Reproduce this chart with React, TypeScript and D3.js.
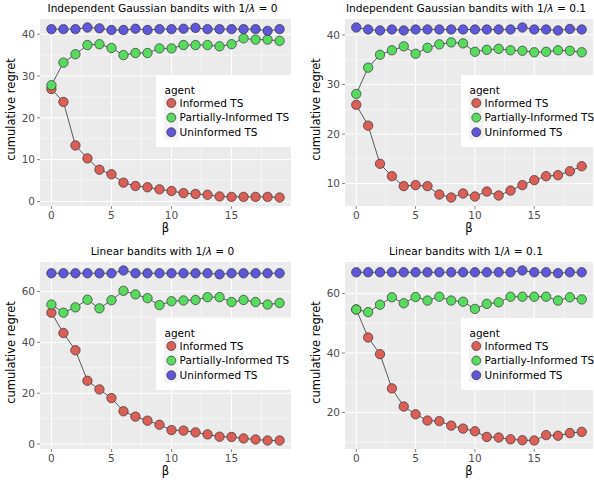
import * as d3 from 'd3'

const BETA = [0, 1, 2, 3, 4, 5, 6, 7, 8, 9, 10, 11, 12, 13, 14, 15, 16, 17, 18, 19]
const AGENTS = ['Informed TS', 'Partially-Informed TS', 'Uninformed TS']
const COLORS = ['#DB5F57', '#57DB5E', '#5F57DB']

// independent gaussian, 1/lambda = 0
const gauss0Informed = [26.9, 23.8, 13.4, 10.3, 7.6, 6.5, 4.5, 3.7, 3.4, 2.9, 2.5, 2.0, 1.8, 1.6, 1.2, 1.1, 1.1, 1.1, 1.1, 0.95]
const gauss0Partial = [27.8, 33.2, 35.2, 37.4, 37.6, 36.7, 35.0, 35.5, 35.5, 36.6, 36.6, 37.4, 37.4, 37.4, 37.1, 37.6, 39.0, 38.7, 38.7, 38.4]
const gauss0Uninformed = [41.2, 41.2, 41.2, 41.6, 41.4, 41.0, 41.0, 41.3, 41.0, 41.2, 41.2, 41.3, 41.5, 41.2, 41.2, 41.2, 41.2, 41.2, 40.8, 41.2]

// independent gaussian, 1/lambda = 0.1
const gauss01Informed = [25.9, 21.7, 14.0, 11.5, 9.5, 9.7, 9.5, 7.8, 7.2, 8.0, 7.4, 8.4, 7.6, 8.6, 9.7, 10.7, 11.5, 11.7, 12.5, 13.5]
const gauss01Partial = [28.1, 33.4, 36.0, 36.9, 37.7, 36.2, 37.4, 38.1, 38.5, 38.3, 36.6, 37.0, 37.2, 36.9, 36.8, 36.5, 36.6, 36.9, 36.8, 36.5]
const gauss01Uninformed = [41.5, 41.1, 40.9, 41.1, 40.9, 41.1, 41.1, 41.1, 41.1, 41.1, 41.1, 41.1, 41.1, 41.1, 41.5, 41.1, 41.1, 40.9, 41.2, 41.1]

// linear, 1/lambda = 0
const linear0Informed = [51.7, 43.7, 36.9, 24.9, 21.5, 18.1, 12.9, 10.8, 9.2, 7.6, 5.5, 5.3, 4.6, 3.8, 2.9, 2.8, 2.2, 1.8, 1.4, 1.4]
const linear0Partial = [54.9, 51.7, 53.8, 56.8, 53.4, 56.6, 60.3, 58.9, 57.4, 54.7, 56.2, 56.5, 56.7, 57.8, 57.8, 55.9, 56.7, 55.9, 54.9, 55.5]
const linear0Uninformed = [67.2, 67.2, 67.2, 67.2, 67.2, 67.2, 68.3, 67.2, 67.2, 67.2, 67.2, 67.2, 67.2, 67.2, 66.8, 67.2, 67.2, 67.2, 67.2, 67.2]

// linear, 1/lambda = 0.1
const linear01Informed = [54.6, 45.2, 39.6, 28.1, 22.0, 19.4, 17.3, 17.1, 15.6, 14.6, 13.7, 11.8, 11.6, 11.0, 10.7, 10.6, 12.4, 12.2, 13.1, 13.5]
const linear01Partial = [54.6, 53.7, 56.2, 58.7, 56.7, 58.8, 57.6, 58.9, 57.6, 57.2, 54.8, 56.5, 57.0, 58.9, 58.9, 58.9, 58.9, 57.6, 58.7, 58.0]
const linear01Uninformed = [67.1, 67.1, 67.1, 67.1, 67.1, 67.1, 67.1, 67.1, 67.1, 67.1, 67.1, 67.1, 67.1, 67.1, 67.7, 67.1, 67.1, 66.8, 67.1, 67.1]

const X_TICKS = [0, 5, 10, 15]
const TITLES = ['Independent Gaussian bandits with 1/', 'Independent Gaussian bandits with 1/', 'Linear bandits with 1/', 'Linear bandits with 1/']
const LAMBDAS = ['0', '0.1', '0', '0.1']
const Y_TICKS = [[0, 10, 20, 30, 40], [10, 20, 30, 40], [0, 20, 40, 60], [20, 40, 60]]
const SERIES = [
  [gauss0Informed, gauss0Partial, gauss0Uninformed],
  [gauss01Informed, gauss01Partial, gauss01Uninformed],
  [linear0Informed, linear0Partial, linear0Uninformed],
  [linear01Informed, linear01Partial, linear01Uninformed],
]

// plot panel rectangles
const LAYOUT = [
  { left: 40, top: 19, right: 291, bottom: 206 },
  { left: 345, top: 19, right: 593, bottom: 206 },
  { left: 40, top: 262, right: 291, bottom: 449 },
  { left: 345, top: 262, right: 593, bottom: 449 },
]

const FONT = 'DejaVu Sans, sans-serif'

function expand(ext: [number, number]): [number, number] {
  const pad = (ext[1] - ext[0]) * 0.05
  return [ext[0] - pad, ext[1] + pad]
}

function minorOf(major: number[], domain: [number, number]) {
  const step = major[1] - major[0]
  const out: number[] = []
  for (let v = major[0] - step / 2; v <= domain[1]; v += step) {
    if (v >= domain[0]) out.push(v)
  }
  return out
}

function Panel({ idx }: { idx: number }) {
  const box = LAYOUT[idx]
  const series = SERIES[idx]
  const x = d3.scaleLinear().domain(expand(d3.extent(BETA) as [number, number])).range([box.left, box.right])
  const all = series.flat()
  const yDom = expand(d3.extent(all) as [number, number])
  const y = d3.scaleLinear().domain(yDom).range([box.bottom, box.top])
  const yTicks = Y_TICKS[idx]
  const yMinor = minorOf(yTicks, yDom)
  const xMinor = minorOf(X_TICKS, x.domain() as [number, number])
  const line = d3.line<number>().x((_, i) => x(BETA[i])).y(d => y(d))
  const cx = (box.left + box.right) / 2
  const cy = (box.top + box.bottom) / 2
  const lg = { x: box.left + 116, y: box.top + 56, w: 140, h: 72 }

  return (
    <g>
      <rect x={box.left} y={box.top} width={box.right - box.left} height={box.bottom - box.top} fill="#EBEBEB" />
      {yMinor.map(v => (
        <line key={'ym' + v} x1={box.left} x2={box.right} y1={y(v)} y2={y(v)} stroke="#fff" strokeWidth={0.5} />
      ))}
      {xMinor.map(v => (
        <line key={'xm' + v} x1={x(v)} x2={x(v)} y1={box.top} y2={box.bottom} stroke="#fff" strokeWidth={0.5} />
      ))}
      {yTicks.map(v => (
        <g key={'y' + v}>
          <line x1={box.left} x2={box.right} y1={y(v)} y2={y(v)} stroke="#fff" strokeWidth={1} />
          <line x1={box.left - 3} x2={box.left} y1={y(v)} y2={y(v)} stroke="#333" strokeWidth={0.6} />
          <text x={box.left - 5} y={y(v)} dy="0.35em" textAnchor="end" fontSize={10.5} fill="#4D4D4D">{v}</text>
        </g>
      ))}
      {X_TICKS.map(v => (
        <g key={'x' + v}>
          <line x1={x(v)} x2={x(v)} y1={box.top} y2={box.bottom} stroke="#fff" strokeWidth={1} />
          <line x1={x(v)} x2={x(v)} y1={box.bottom} y2={box.bottom + 3} stroke="#333" strokeWidth={0.6} />
          <text x={x(v)} y={box.bottom + 12.5} textAnchor="middle" fontSize={10.5} fill="#4D4D4D">{v}</text>
        </g>
      ))}
      {series.map((s, k) => (
        <path key={'l' + k} d={line(s) ?? ''} fill="none" stroke="#333" strokeWidth={0.8} />
      ))}
      {series.map((s, k) =>
        s.map((v, i) => (
          <circle key={'p' + k + '-' + i} cx={x(BETA[i])} cy={y(v)} r={4.7} fill={COLORS[k]} stroke="#333" strokeWidth={0.7} />
        ))
      )}
      <text x={cx - 3} y={box.top - 7} textAnchor="middle" fontSize={10.6} fill="#000">
        {TITLES[idx]}
        <tspan fontStyle="italic">λ</tspan>
        {' = ' + LAMBDAS[idx]}
      </text>
      <text transform={`translate(${box.left - 25},${cy - 3}) rotate(-90)`} textAnchor="middle" fontSize={11.5} fill="#000">cumulative regret</text>
      <text x={cx} y={box.bottom + 26} textAnchor="middle" fontSize={11.5} fill="#000">β</text>
      <g>
        <rect x={lg.x} y={lg.y} width={lg.w} height={lg.h} fill="#fff" />
        <text x={lg.x + 8.5} y={lg.y + 19} fontSize={10.5} fill="#000">agent</text>
        {AGENTS.map((a, k) => {
          const ky = lg.y + 28 + k * 14.6
          return (
            <g key={a}>
              <rect x={lg.x + 8} y={ky - 7.2} width={14.4} height={14.4} fill="#F2F2F2" />
              <circle cx={lg.x + 15.3} cy={ky} r={4.5} fill={COLORS[k]} stroke="#333" strokeWidth={0.7} />
              <text x={lg.x + 23.6} y={ky} dy="0.36em" fontSize={10.5} fill="#000">{a}</text>
            </g>
          )
        })}
      </g>
    </g>
  )
}

export default function App() {
  return (
    <svg width={594} height={482} style={{ position: 'absolute', left: 0, top: 0, fontFamily: FONT }}>
      <rect width={594} height={482} fill="#fff" />
      {LAYOUT.map((_, i) => (
        <Panel key={i} idx={i} />
      ))}
    </svg>
  )
}
